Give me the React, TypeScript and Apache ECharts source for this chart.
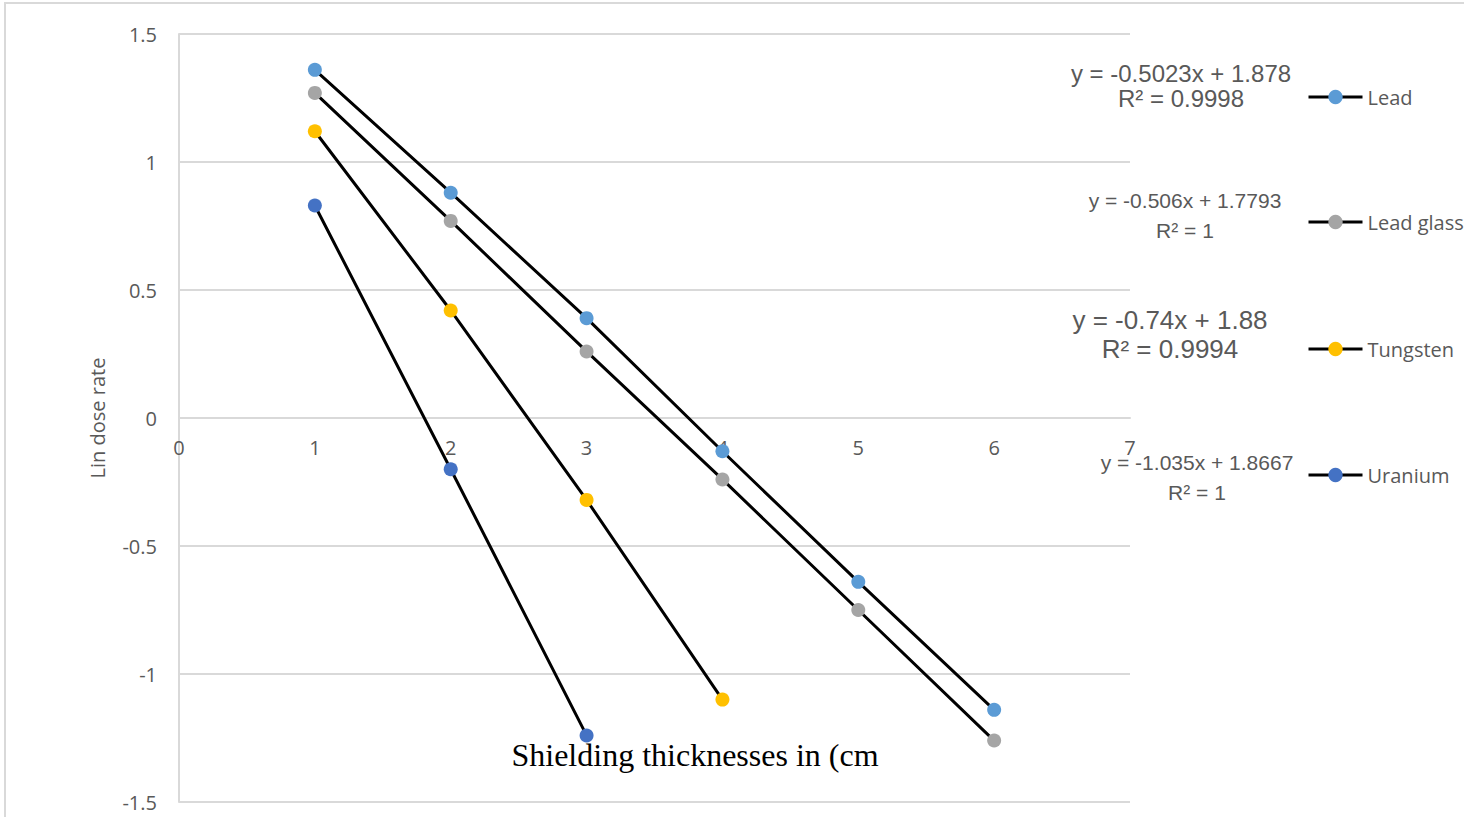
import React, { useEffect, useRef } from "react";
import * as echarts from "echarts";

// Shielding thickness (cm) and natural-log dose rate for each material
const thickness = [1, 2, 3, 4, 5, 6];
const leadValues = [1.36, 0.88, 0.39, -0.13, -0.64, -1.14];
const leadGlassValues = [1.27, 0.77, 0.26, -0.24, -0.75, -1.26];
const tungstenValues = [1.12, 0.42, -0.32, -1.1];
const uraniumValues = [0.83, -0.2, -1.24];

const seriesNames = ["Lead", "Lead glass", "Tungsten", "Uranium"];
const markerColors = ["#5B9BD5", "#A5A5A5", "#FFC000", "#4472C4"];

// Fitted trend line equations shown beside the legend
const equations = [
  "y = -0.5023x + 1.878",
  "y = -0.506x + 1.7793",
  "y = -0.74x + 1.88",
  "y = -1.035x + 1.8667",
];
const rSquared = ["R² = 0.9998", "R² = 1", "R² = 0.9994", "R² = 1"];

const GRAY_TEXT = "#595959";
const GRID_LINE = "#d9d9d9";

const GRID_TOP = 34;
const GRID_BOTTOM = 15;
const CHART_H = 817;

export default function App() {
  const ref = useRef<HTMLDivElement>(null);

  useEffect(() => {
    if (!ref.current) return;
    const chart = echarts.init(ref.current, undefined, { renderer: "svg" });

    const allValues = [leadValues, leadGlassValues, tungstenValues, uraniumValues];
    const series = seriesNames.map((name, i) => ({
      name,
      type: "line",
      data: allValues[i].map((v, j) => [thickness[j], v]),
      symbol: "circle",
      symbolSize: 14,
      lineStyle: { color: "#000000", width: 3 },
      itemStyle: { color: markerColors[i] },
      z: 3,
    }));

    const legendCenters = [97, 222, 349, 475];
    const legends = seriesNames.map((name, i) => ({
      data: [name],
      left: 1307,
      top: legendCenters[i] - 10,
      padding: 0,
      itemWidth: 54,
      itemHeight: 18,
      itemGap: 5,
      selectedMode: false,
      lineStyle: { width: 3 },
      textStyle: { color: GRAY_TEXT, fontSize: 20, fontFamily: "Open Sans" },
    }));

    // equation label layout: [center x, line1 y, line2 y, font size]
    const eqLayout = [
      [1181, 73, 98, 24],
      [1185, 200, 230, 21],
      [1170, 320, 349, 26],
      [1197, 462, 492, 21],
    ];
    const eqTexts: any[] = [];
    eqLayout.forEach(([cx, y1, y2, fs], i) => {
      [equations[i], rSquared[i]].forEach((t, k) => {
        eqTexts.push({
          type: "text",
          x: cx,
          y: k === 0 ? y1 : y2,
          style: {
            text: t,
            fill: GRAY_TEXT,
            fontSize: fs,
            fontFamily: "Liberation Sans",
            align: "center",
            verticalAlign: "middle",
          },
          z: 10,
        });
      });
    });

    // x axis crosses the plot at y = 0: shift it up from the grid's bottom edge
    const plotH = CHART_H - GRID_TOP - GRID_BOTTOM;
    const yMin = -1.5;
    const yMax = 1.5;
    const zeroOffset = -(plotH * (0 - yMin)) / (yMax - yMin);

    chart.setOption({
      animation: false,
      backgroundColor: "#ffffff",
      grid: {
        left: 179,
        top: GRID_TOP,
        right: 334,
        bottom: GRID_BOTTOM,
        containLabel: false,
        outerBoundsMode: "none",
      },
      xAxis: {
        type: "value",
        min: 0,
        max: 7,
        interval: 1,
        position: "bottom",
        offset: zeroOffset,
        axisLine: { show: true, onZero: false, lineStyle: { color: GRID_LINE, width: 2 } },
        axisTick: { show: false },
        splitLine: { show: false },
        axisLabel: { color: GRAY_TEXT, fontSize: 20, fontFamily: "Open Sans", margin: 19 },
      },
      yAxis: {
        type: "value",
        min: yMin,
        max: yMax,
        interval: 0.5,
        name: "Lin dose rate",
        nameLocation: "middle",
        nameRotate: 90,
        nameGap: 72,
        nameTextStyle: { color: GRAY_TEXT, fontSize: 20, fontFamily: "Open Sans" },
        axisLine: { show: true, onZero: false, lineStyle: { color: GRID_LINE, width: 2 } },
        axisTick: { show: false },
        splitLine: { show: true, lineStyle: { color: GRID_LINE, width: 2 } },
        axisLabel: { color: GRAY_TEXT, fontSize: 20, fontFamily: "Open Sans", margin: 22 },
      },
      legend: legends,
      series,
      graphic: [
        {
          type: "rect",
          shape: { x: 5, y: 3, width: 1600, height: 900 },
          style: { fill: "none", stroke: GRID_LINE, lineWidth: 2 },
          silent: true,
          z: 0,
        },
        {
          type: "text",
          x: 695,
          y: 755,
          style: {
            text: "Shielding thicknesses in (cm",
            fill: "#000000",
            fontSize: 32,
            fontFamily: "Liberation Serif",
            align: "center",
            verticalAlign: "middle",
          },
          z: 10,
        },
        ...eqTexts,
      ],
    });

    return () => chart.dispose();
  }, []);

  return (
    <div
      ref={ref}
      style={{ position: "absolute", left: 0, top: 0, width: 1464, height: CHART_H }}
    />
  );
}
